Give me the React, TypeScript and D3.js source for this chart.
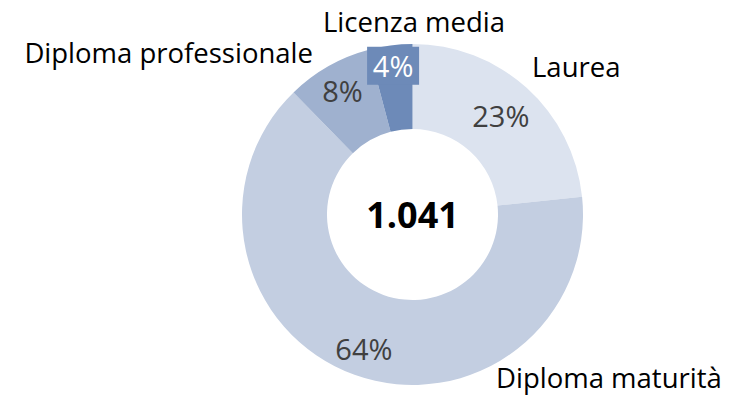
import React from "react";
import * as d3 from "d3";

const categories = ["Laurea", "Diploma maturità", "Diploma professionale", "Licenza media"];
const counts = [243, 670, 85, 43];
const colors = ["#dce3ef", "#c3cee1", "#9fb1cf", "#6d8ab8"];
const totalLabel = "1.041";

// label layout (text placement only)
const pctRadius = [132, 143, 142, 150];
const catPos: { x: number; y: number; anchor: string }[] = [
  { x: 532, y: 77, anchor: "start" },
  { x: 496, y: 388, anchor: "start" },
  { x: 313, y: 63, anchor: "end" },
  { x: 414, y: 32, anchor: "middle" },
];

const W = 734;
const H = 400;
const cx = 412.5;
const cy = 214.5;
const outerR = 170.5;
const innerR = 85.5;
const FONT = "'Open Sans', 'Noto Sans', sans-serif";

export default function App() {
  const total = d3.sum(counts);
  const pie = d3.pie<number>().sort(null).value((d) => d);
  const arcs = pie(counts);
  const arcGen = d3.arc<d3.PieArcDatum<number>>().innerRadius(innerR).outerRadius(outerR);

  return (
    <svg
      width={W}
      height={H}
      style={{ position: "absolute", left: 0, top: 0, display: "block", background: "#fff" }}
      fontFamily={FONT}
    >
      <g transform={`translate(${cx},${cy})`}>
        {arcs.map((a, i) => (
          <path key={i} d={arcGen(a) || ""} fill={colors[i]} />
        ))}
        {arcs.map((a, i) => {
          const mid = (a.startAngle + a.endAngle) / 2;
          const r = pctRadius[i];
          const x = r * Math.sin(mid);
          const y = -r * Math.cos(mid);
          const pct = `${Math.round((counts[i] / total) * 100)}%`;
          const isBoxed = i === 3;
          return (
            <g key={i}>
              {isBoxed && (
                <rect x={x - 26} y={y - 19} width={52} height={38} fill={colors[i]} />
              )}
              <text
                x={x}
                y={y + 11}
                textAnchor="middle"
                fontSize={29}
                fill={isBoxed ? "#ffffff" : "#404040"}
              >
                {pct}
              </text>
            </g>
          );
        })}
        <text x={0} y={13} textAnchor="middle" fontSize={36} fontWeight="bold" fill="#000">
          {totalLabel}
        </text>
      </g>
      {categories.map((c, i) => (
        <text
          key={c}
          x={catPos[i].x}
          y={catPos[i].y}
          textAnchor={catPos[i].anchor as any}
          fontSize={27.5}
          fill="#000"
        >
          {c}
        </text>
      ))}
    </svg>
  );
}
